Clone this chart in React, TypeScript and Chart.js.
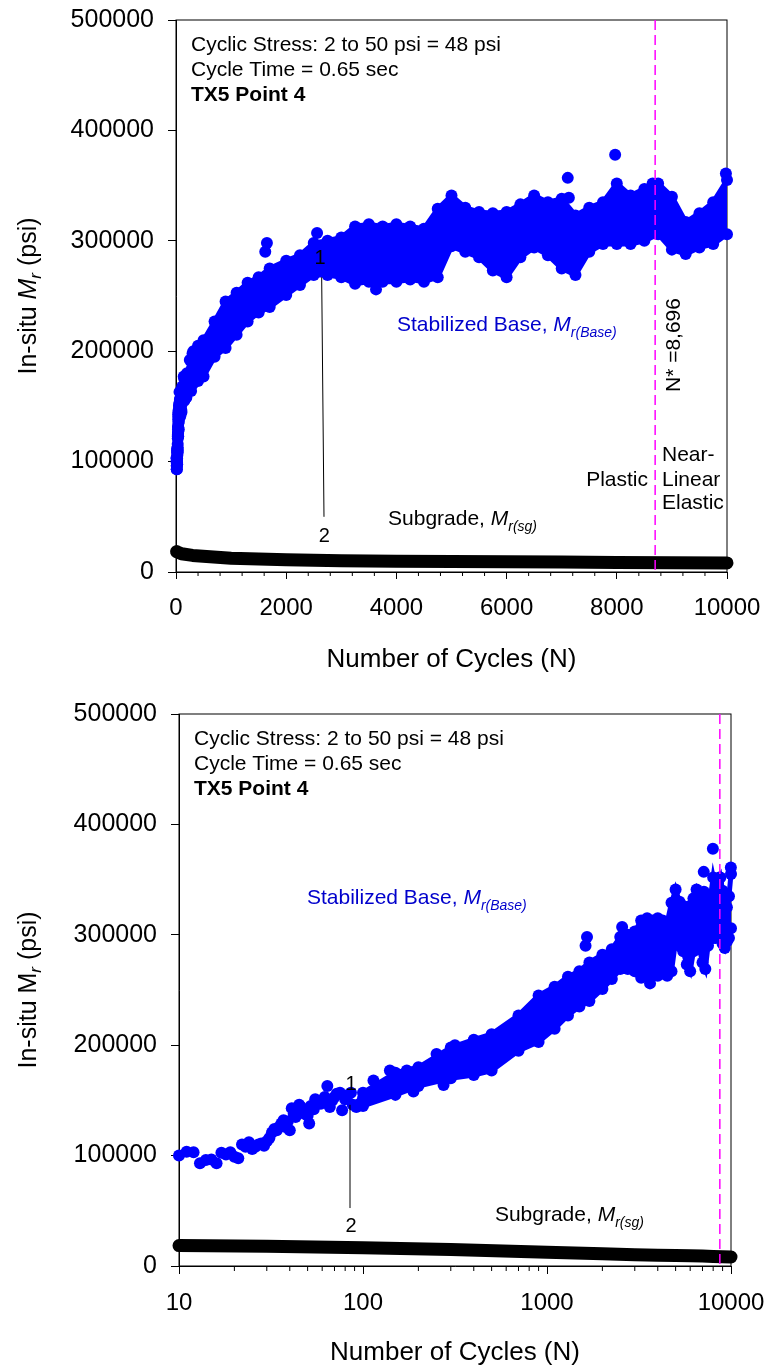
import React, { useEffect, useRef } from 'react';
import { Chart, registerables } from 'chart.js';

Chart.register(...registerables);

const FONT = "'Liberation Sans', Arial, Helvetica, sans-serif";
const BLUE = '#0000ff';
const TEXT_BLUE = '#0000cc';
const MAGENTA = '#ff00ff';

// ---------------- data ----------------
const yTickValues = [0, 100000, 200000, 300000, 400000, 500000];
const xTickValuesLinear = [0, 2000, 4000, 6000, 8000, 10000];
const xTickValuesLog = [10, 100, 1000, 10000];
const nStar = 8696;

// early, individually visible base points (cycles 10..100)
const earlyCycles = [
  10, 11, 12, 13, 14, 15, 16, 17, 18, 19, 20, 21, 22, 23, 24, 25, 26, 27, 28, 29,
  30, 31, 32, 33, 34, 35, 36, 37, 38, 39, 40, 41, 42, 43, 44, 45, 46, 47, 48, 50,
  51, 52, 54, 55, 57, 59, 60, 62, 64, 66, 68, 70, 72, 75, 77, 80, 83, 86, 88, 92, 96, 100,
];
const earlyBaseMr = [
  100000, 103500, 103000, 93000, 96000, 96500, 93000, 102500, 101000, 103000,
  99000, 97500, 110000, 108000, 112000, 106000, 108000, 110000, 111000, 109000,
  113000, 116000, 121000, 124000, 123000, 126000, 129000, 132000, 126000, 131000,
  123000, 143000, 138000, 135000, 140000, 146000, 144000, 141000, 138000, 136000,
  129000, 145000, 142000, 151000, 148000, 147000, 150000, 153000, 163000, 144000,
  150000, 153000, 156000, 157000, 141000, 151000, 155000, 157000, 146000, 144000, 147000, 152000,
];

// dense base cloud: upper and lower edge (dot centres) of the scatter band
const bandCycles = [
  100, 150, 200, 300, 400, 500, 700, 900, 1100, 1300, 1500, 1700,
  2000, 2250, 2500, 2750, 3000, 3250, 3500, 3750, 4000, 4250, 4500, 4750,
  5000, 5250, 5500, 5750, 6000, 6250, 6500, 6750, 7000, 7250, 7500, 7750,
  8000, 8250, 8500, 8750, 9000, 9250, 9500, 9750, 10000,
];
const baseUpperMr = [
  157000, 175000, 180000, 198000, 205000, 210000, 227000, 245000, 253000, 262000, 267000, 275000,
  282000, 287000, 298000, 300000, 303000, 313000, 315000, 313000, 315000, 313000, 311000, 329000,
  341000, 330000, 326000, 325000, 326000, 333000, 341000, 335000, 338000, 323000, 330000, 335000,
  352000, 341000, 347000, 352000, 340000, 317000, 325000, 335000, 355000,
];
const baseLowerMr = [
  145000, 155000, 163000, 170000, 173000, 177000, 195000, 203000, 215000, 227000, 235000, 240000,
  251000, 260000, 269000, 269000, 267000, 261000, 263000, 263000, 263000, 265000, 263000, 267000,
  295000, 290000, 285000, 273000, 267000, 285000, 294000, 287000, 275000, 269000, 290000, 297000,
  297000, 297000, 300000, 306000, 292000, 288000, 294000, 297000, 306000,
];

// isolated base points around the band
const outlierCycles = [
  114, 140, 173, 188, 203, 251, 274, 307, 316,
  1620, 1650, 2560, 3630, 7110, 7130, 7970, 8650, 9980,
];
const outlierBaseMr = [
  168000, 177000, 177000, 158000, 178000, 192000, 164000, 176000, 200000,
  290000, 298000, 307000, 256000, 357000, 339000, 378000, 352000, 361000,
];

// subgrade
const subgradeCycles = [10, 30, 100, 300, 1000, 2000, 3000, 4000, 5000, 6000, 7000, 8000, 9000, 10000];
const subgradeMr = [18500, 18000, 16500, 15000, 12500, 11000, 10300, 9800, 9500, 9300, 9000, 8700, 8400, 8200];

// ---------------- helpers ----------------
const fnt = (size: number, style = '') => `${style} ${size}px ${FONT}`.trim();

type Seg = { t: string; size: number; style?: string; dy?: number };
type Txt = { x: number; y: number; segs: Seg[]; color?: string; align?: 'left' | 'right' | 'center' };

function drawRich(ctx: CanvasRenderingContext2D, segs: Seg[], x: number, y: number, align: string, color: string) {
  ctx.fillStyle = color;
  ctx.textBaseline = 'middle';
  ctx.textAlign = 'left';
  let total = 0;
  for (const s of segs) {
    ctx.font = fnt(s.size, s.style);
    total += ctx.measureText(s.t).width;
  }
  let cx = align === 'left' ? x : align === 'right' ? x - total : x - total / 2;
  for (const s of segs) {
    ctx.font = fnt(s.size, s.style);
    ctx.fillText(s.t, cx, y + (s.dy || 0));
    cx += ctx.measureText(s.t).width;
  }
}

type Panel = {
  logX: boolean;
  padding: { left: number; right: number; top: number; bottom: number };
  yAxisWidth: number;
  xAxisHeight: number;
  xTickLen: number;
  minorLen: number;
  minorTicks: number[];
  xTitlePad: number;
  yTitleSegs: Seg[];
  texts: Txt[];
  rotated: { x: number; y: number; text: string }[];
  leaders: { x1: number; y1: number; x2: number; y2: number }[];
};

const linMinor: number[] = [];
for (let v = 400; v < 10000; v += 400) if (v % 2000 !== 0) linMinor.push(v);
const logMinor: number[] = [];
for (const d of [10, 100, 1000]) for (let k = 2; k <= 9; k++) logMinor.push(d * k);

const headerLines: Seg[][] = [
  [{ t: 'Cyclic Stress: 2 to 50 psi = 48 psi', size: 21 }],
  [{ t: 'Cycle Time = 0.65 sec', size: 21 }],
  [{ t: 'TX5 Point 4', size: 21, style: 'bold' }],
];

const baseLabel: Seg[] = [
  { t: 'Stabilized Base, ', size: 21 },
  { t: 'M', size: 21, style: 'italic' },
  { t: 'r(Base)', size: 14, style: 'italic', dy: 8 },
];
const sgLabel: Seg[] = [
  { t: 'Subgrade, ', size: 21 },
  { t: 'M', size: 21, style: 'italic' },
  { t: 'r(sg)', size: 14, style: 'italic', dy: 8 },
];

const topPanel: Panel = {
  logX: false,
  padding: { left: 0, right: 43, top: 20, bottom: 0 },
  yAxisWidth: 176,
  xAxisHeight: 111,
  xTickLen: 7,
  minorLen: 4,
  minorTicks: linMinor,
  xTitlePad: 10,
  yTitleSegs: [
    { t: 'In-situ ', size: 25 },
    { t: 'M', size: 25, style: 'italic' },
    { t: 'r', size: 17, style: 'italic', dy: 7 },
    { t: ' (psi)', size: 25 },
  ],
  texts: [
    { x: 4010, y: 224000, segs: baseLabel, color: TEXT_BLUE, align: 'left' },
    { x: 3848, y: 48000, segs: sgLabel, align: 'left' },
    { x: 8566, y: 83000, segs: [{ t: 'Plastic', size: 21 }], align: 'right' },
    { x: 8820, y: 106000, segs: [{ t: 'Near-', size: 21 }], align: 'left' },
    { x: 8820, y: 83000, segs: [{ t: 'Linear', size: 21 }], align: 'left' },
    { x: 8820, y: 62500, segs: [{ t: 'Elastic', size: 21 }], align: 'left' },
    { x: 2613, y: 284000, segs: [{ t: '1', size: 20 }], align: 'center' },
    { x: 2690, y: 32000, segs: [{ t: '2', size: 20 }], align: 'center' },
  ],
  rotated: [{ x: 9038, y: 205600, text: 'N* =8,696' }],
  leaders: [{ x1: 2644, y1: 267000, x2: 2686, y2: 50000 }],
};

const bottomPanel: Panel = {
  logX: true,
  padding: { left: 0, right: 39, top: 31, bottom: 0 },
  yAxisWidth: 179,
  xAxisHeight: 100,
  xTickLen: 8,
  minorLen: 5,
  minorTicks: logMinor,
  xTitlePad: 0,
  yTitleSegs: [
    { t: 'In-situ M', size: 25 },
    { t: 'r', size: 17, style: 'italic', dy: 7 },
    { t: ' (psi)', size: 25 },
  ],
  texts: [
    { x: 49.6, y: 333000, segs: baseLabel, color: TEXT_BLUE, align: 'left' },
    { x: 521, y: 46000, segs: sgLabel, align: 'left' },
    { x: 86, y: 164000, segs: [{ t: '1', size: 20 }], align: 'center' },
    { x: 86, y: 36000, segs: [{ t: '2', size: 20 }], align: 'center' },
  ],
  rotated: [],
  leaders: [{ x1: 85, y1: 146000, x2: 85, y2: 52500 }],
};

function decoPlugin(p: Panel) {
  return {
    id: p.logX ? 'decoLog' : 'decoLin',
    beforeDatasetsDraw(chart: any) {
      const { ctx, chartArea: a } = chart;
      ctx.save();
      ctx.strokeStyle = '#000';
      ctx.lineWidth = 1;
      ctx.strokeRect(a.left, a.top, a.right - a.left, a.bottom - a.top);
      ctx.beginPath();
      for (const v of p.minorTicks) {
        const x = chart.scales.x.getPixelForValue(v);
        ctx.moveTo(x, a.bottom);
        ctx.lineTo(x, a.bottom + p.minorLen);
      }
      ctx.stroke();
      ctx.restore();
    },
    afterDatasetsDraw(chart: any) {
      const { ctx, chartArea: a, scales } = chart;
      const px = (v: number) => scales.x.getPixelForValue(v);
      const py = (v: number) => scales.y.getPixelForValue(v);
      ctx.save();
      // N* dashed line
      ctx.strokeStyle = MAGENTA;
      ctx.lineWidth = 1.5;
      ctx.setLineDash([10, 5]);
      ctx.beginPath();
      ctx.moveTo(px(nStar), a.top);
      ctx.lineTo(px(nStar), a.bottom);
      ctx.stroke();
      ctx.setLineDash([]);
      // leader lines
      ctx.strokeStyle = '#000';
      ctx.lineWidth = 1;
      for (const l of p.leaders) {
        ctx.beginPath();
        ctx.moveTo(px(l.x1), py(l.y1));
        ctx.lineTo(px(l.x2), py(l.y2));
        ctx.stroke();
      }
      // annotation texts
      for (const t of p.texts) drawRich(ctx, t.segs, px(t.x), py(t.y), t.align || 'left', t.color || '#000');
      for (const r of p.rotated) {
        ctx.save();
        ctx.translate(px(r.x), py(r.y));
        ctx.rotate(-Math.PI / 2);
        drawRich(ctx, [{ t: r.text, size: 21 }], 0, 0, 'center', '#000');
        ctx.restore();
      }
      // header block
      headerLines.forEach((segs, i) => drawRich(ctx, segs, a.left + 15, a.top + 25 + i * 25, 'left', '#000'));
      // y-axis title
      ctx.save();
      ctx.translate(29, (a.top + a.bottom) / 2);
      ctx.rotate(-Math.PI / 2);
      drawRich(ctx, p.yTitleSegs, 0, 0, 'center', '#000');
      ctx.restore();
      ctx.restore();
    },
  };
}

const zeroPad = (s: any) => {
  s.paddingLeft = 0;
  s.paddingRight = 0;
  s.paddingTop = 0;
  s.paddingBottom = 0;
};

function buildConfig(p: Panel): any {
  const pts = (xs: number[], ys: number[]) => xs.map((x, i) => ({ x, y: ys[i] }));
  const xTicks = p.logX ? xTickValuesLog : xTickValuesLinear;
  const dot = { pointRadius: 6, pointBorderWidth: 0, pointBackgroundColor: BLUE, pointBorderColor: BLUE, clip: false };
  return {
    type: 'line',
    data: {
      datasets: [
        { data: pts(bandCycles, baseUpperMr), borderColor: BLUE, backgroundColor: BLUE, borderWidth: 5, tension: 0, fill: false, ...dot },
        { data: pts(bandCycles, baseLowerMr), borderColor: BLUE, backgroundColor: BLUE, borderWidth: 5, tension: 0, fill: '-1', ...dot },
        { data: pts(earlyCycles, earlyBaseMr), showLine: false, ...dot },
        { data: pts(outlierCycles, outlierBaseMr), showLine: false, ...dot },
        {
          data: pts(subgradeCycles, subgradeMr),
          borderColor: '#000',
          backgroundColor: '#000',
          borderWidth: 13,
          borderCapStyle: 'round',
          borderJoinStyle: 'round',
          pointRadius: 0,
          fill: false,
          tension: 0,
          clip: false,
        },
      ],
    },
    options: {
      responsive: false,
      animation: false,
      events: [],
      layout: { autoPadding: false, padding: p.padding },
      plugins: { legend: { display: false }, tooltip: { enabled: false }, title: { display: false } },
      scales: {
        x: {
          type: p.logX ? 'logarithmic' : 'linear',
          min: p.logX ? 10 : 0,
          max: 10000,
          afterBuildTicks: (s: any) => {
            s.ticks = xTicks.map((v) => ({ value: v }));
          },
          afterFit: (s: any) => {
            s.height = p.xAxisHeight;
            zeroPad(s);
          },
          ticks: {
            autoSkip: false,
            maxRotation: 0,
            minRotation: 0,
            padding: 15,
            color: '#000',
            font: { family: FONT, size: 24 },
            callback: (v: any) => String(v),
          },
          grid: { display: true, drawOnChartArea: false, drawTicks: true, tickLength: p.xTickLen, color: '#000', lineWidth: 1 },
          border: { display: true, color: '#000', width: 1 },
          title: {
            display: true,
            text: 'Number of Cycles (N)',
            color: '#000',
            font: { family: FONT, size: 26, lineHeight: 1 },
            padding: { top: 0, bottom: p.xTitlePad },
          },
        },
        y: {
          type: 'linear',
          min: 0,
          max: 500000,
          afterBuildTicks: (s: any) => {
            s.ticks = yTickValues.map((v) => ({ value: v }));
          },
          afterFit: (s: any) => {
            s.width = p.yAxisWidth;
            zeroPad(s);
          },
          ticks: { padding: 14, color: '#000', font: { family: FONT, size: 25 }, callback: (v: any) => String(v) },
          grid: { display: true, drawOnChartArea: false, drawTicks: true, tickLength: 8, color: '#000', lineWidth: 1 },
          border: { display: true, color: '#000', width: 1 },
        },
      },
    },
    plugins: [decoPlugin(p)],
  };
}

function ChartPanel({ panel, top }: { panel: Panel; top: number }) {
  const ref = useRef<HTMLCanvasElement>(null);
  useEffect(() => {
    if (!ref.current) return;
    const chart = new Chart(ref.current, buildConfig(panel));
    return () => chart.destroy();
  }, [panel]);
  return (
    <canvas
      ref={ref}
      width={770}
      height={683}
      style={{ position: 'absolute', left: 0, top, width: 770, height: 683, display: 'block' }}
    />
  );
}

export default function App() {
  return (
    <div style={{ position: 'absolute', left: 0, top: 0, width: 770, height: 1366, overflow: 'hidden', background: '#fff' }}>
      <ChartPanel panel={topPanel} top={0} />
      <ChartPanel panel={bottomPanel} top={683} />
    </div>
  );
}
